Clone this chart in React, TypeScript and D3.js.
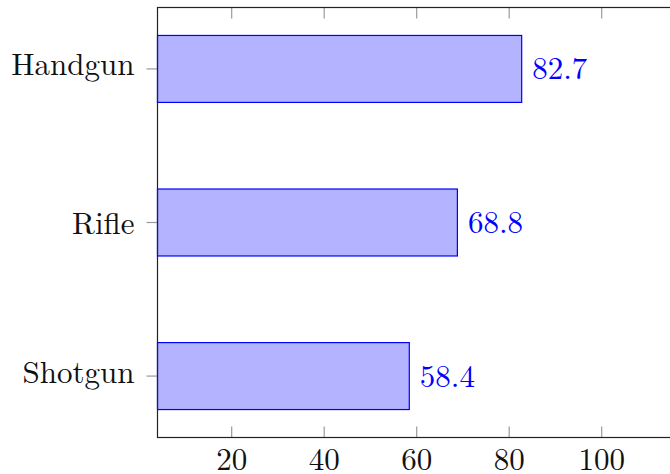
import React from "react";
import * as d3 from "d3";

const categories = ["Handgun", "Rifle", "Shotgun"];
const values = [82.7, 68.8, 58.4];
const xTicks = [20, 40, 60, 80, 100];

const W = 670;
const H = 474;
const left = 157.5;
const right = 680;
const top = 7.5;
const bottom = 437.5;
const FONT = "'Latin Modern Roman', 'Liberation Serif', serif";
const FS = 31;

const textStyle = { fontFamily: FONT, fontSize: FS } as const;

// vertically centre a label's box (height + depth) on its tick
const labelShift = (s: string) => (/[gjpqy]/.test(s) ? 6.5 : 11.2);

export default function App() {
  const x = d3.scaleLinear().domain([3.96, 116.93]).range([left, right]);
  // categories listed top to bottom; index 0 at top
  const y = d3
    .scaleLinear()
    .domain([-0.4, categories.length - 1 + 0.4])
    .range([top, bottom]);
  const barH = (y(1) - y(0)) * 0.436;

  return (
    <svg
      width={W}
      height={H}
      style={{ position: "absolute", left: 0, top: 0, background: "#fff" }}
    >
      {/* bars */}
      {values.map((v, i) => (
        <rect
          key={categories[i]}
          x={x.range()[0]}
          y={y(i) - barH / 2}
          width={x(v) - x.range()[0]}
          height={barH}
          fill="#b3b3ff"
          stroke="#0000ff"
          strokeWidth={1.2}
        />
      ))}
      {/* value labels */}
      {values.map((v, i) => (
        <text
          key={"v" + i}
          x={x(v) + 10.5}
          y={y(i) + 10.5}
          fill="#0000ff"
          style={textStyle}
        >
          {v.toFixed(1)}
        </text>
      ))}
      {/* x ticks, top and bottom, inside */}
      {xTicks.map((t) => (
        <g key={"t" + t}>
          <line x1={x(t)} x2={x(t)} y1={top} y2={top + 11} stroke="#9a9a9a" strokeWidth={1.2} />
          <line x1={x(t)} x2={x(t)} y1={bottom} y2={bottom - 11} stroke="#9a9a9a" strokeWidth={1.2} />
          <text x={x(t)} y={470} textAnchor="middle" fill="#111" style={textStyle}>
            {t}
          </text>
        </g>
      ))}
      {/* y ticks and category labels */}
      {categories.map((c, i) => (
        <g key={c}>
          <line x1={left - 11} x2={left} y1={y(i)} y2={y(i)} stroke="#9a9a9a" strokeWidth={1.2} />
          <text
            x={left - 23}
            y={y(i) + labelShift(c)}
            textAnchor="end"
            fill="#111"
            style={textStyle}
          >
            {c}
          </text>
        </g>
      ))}
      {/* axis frame */}
      <rect
        x={left}
        y={top}
        width={right - left}
        height={bottom - top}
        fill="none"
        stroke="#222"
        strokeWidth={1.2}
      />
    </svg>
  );
}
